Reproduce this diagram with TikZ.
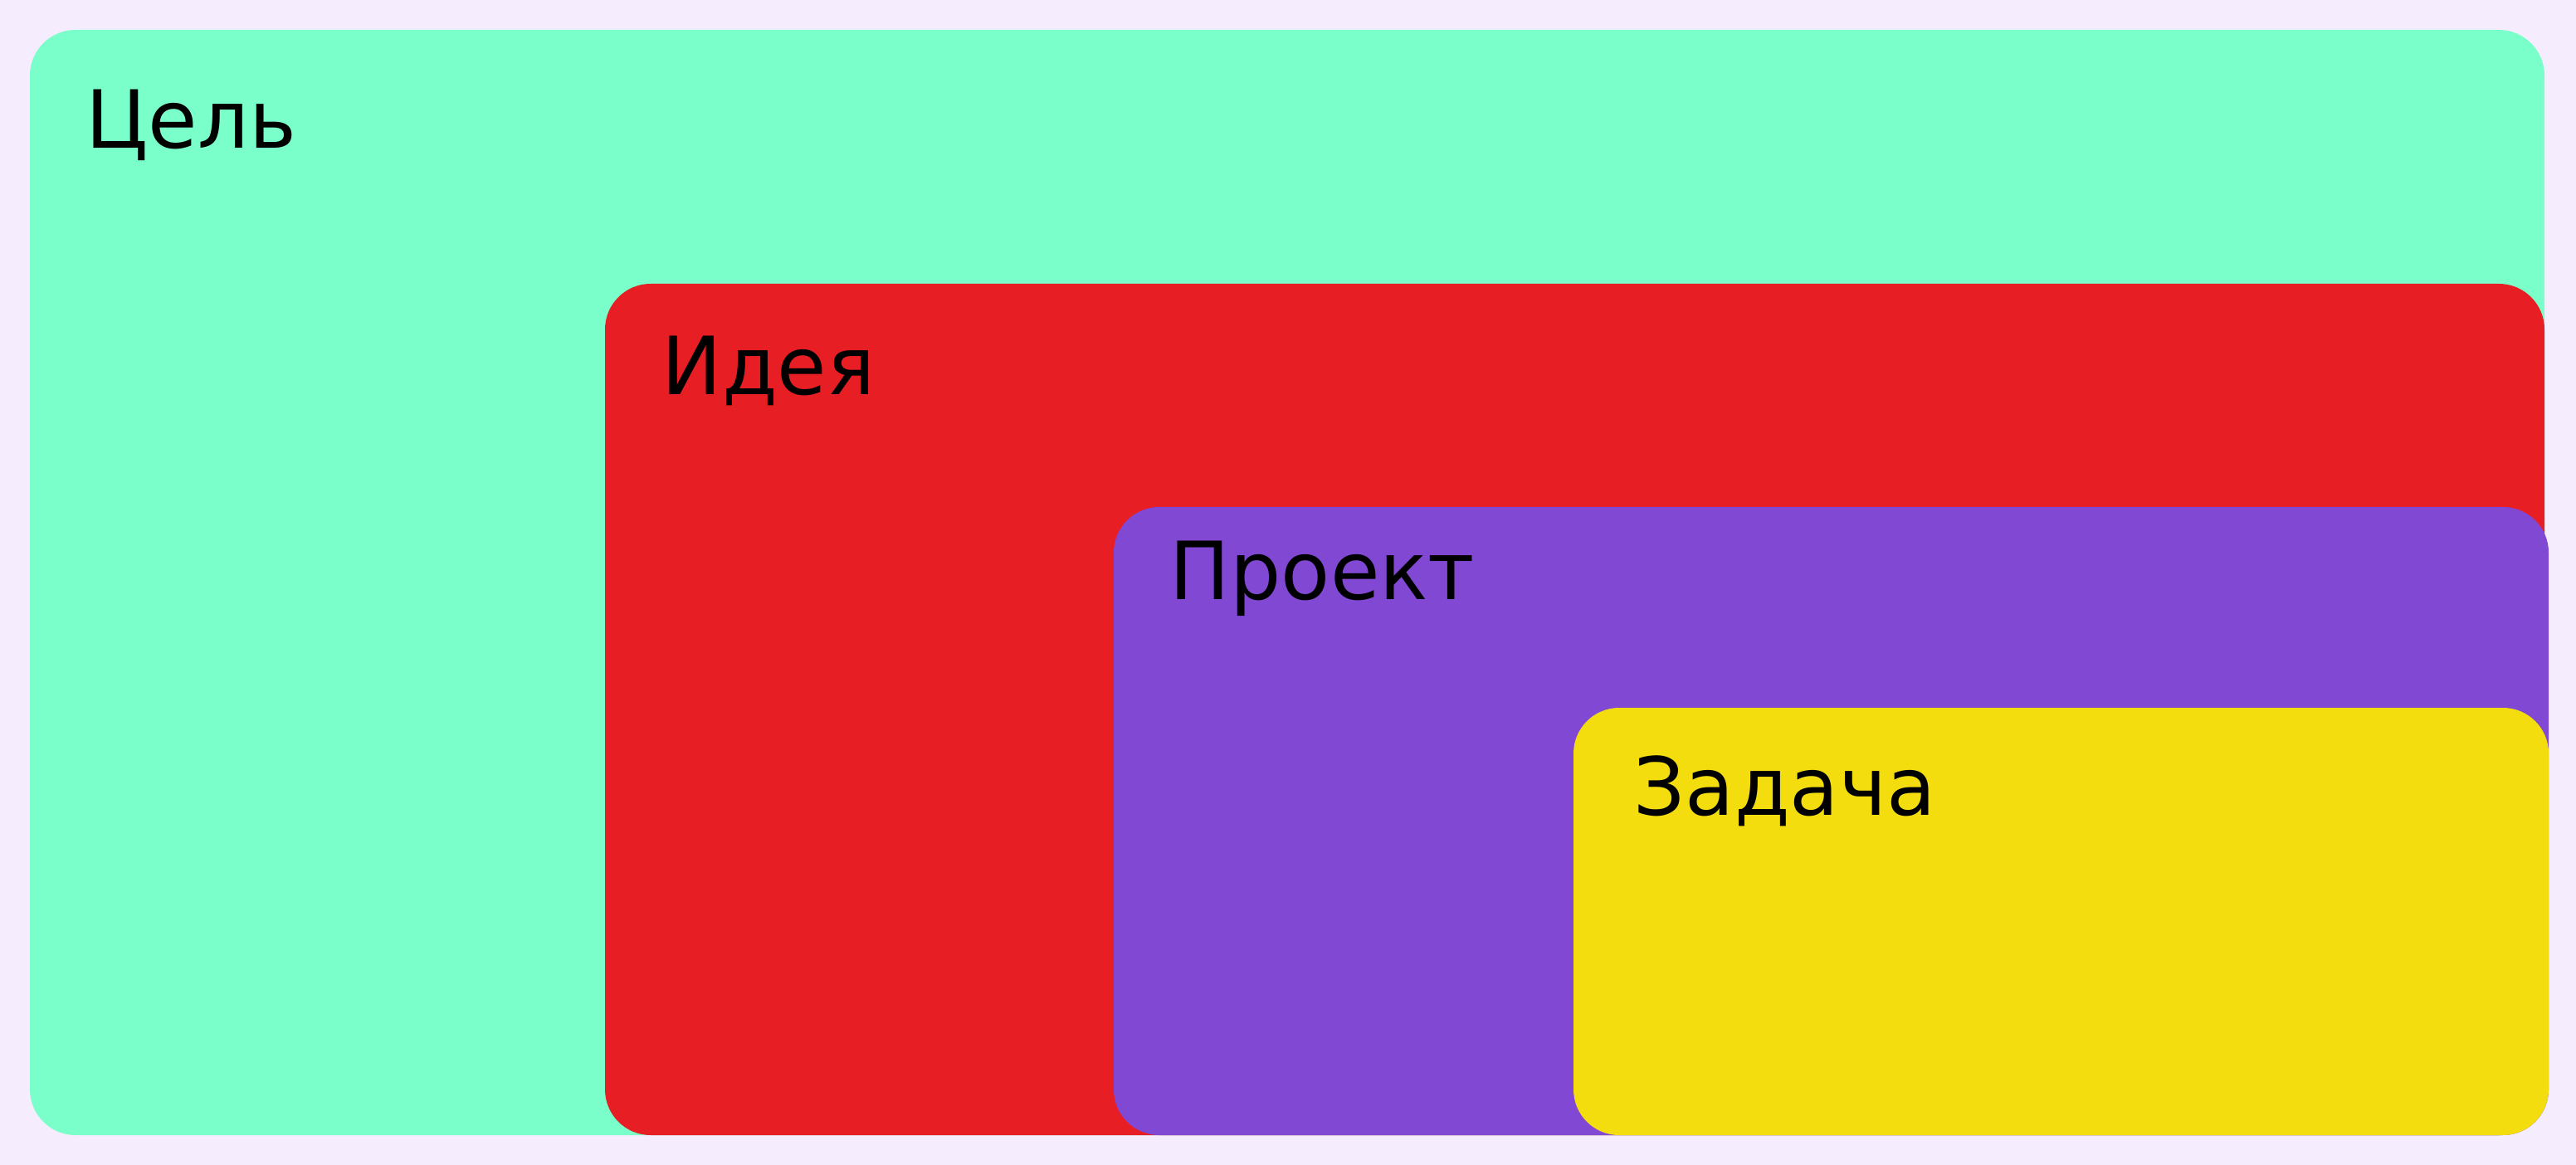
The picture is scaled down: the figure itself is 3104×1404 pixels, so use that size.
\documentclass[tikz,border=0pt]{standalone}
\usepackage{fontspec}
\setmainfont{DejaVu Sans}
\definecolor{fon}{HTML}{F5EDFE}
\definecolor{zel}{HTML}{7BFFCA}
\definecolor{kras}{HTML}{E81E25}
\definecolor{fiol}{HTML}{8148D4}
\definecolor{zhel}{HTML}{F3DD0F}
\tikzstyle{uroven} = [rounded corners=0.55cm]
\tikzstyle{nazv} = [anchor=base west, inner sep=0pt, font=\fontsize{27.5}{33}\selectfont]

\begin{document}
\begin{tikzpicture}[x=0.01cm, y=-0.01cm]
\fill[fon] (0,0) rectangle (3104,1404);
\useasboundingbox (0,0) rectangle (3104,1404);
% vlozhennye urovni
\fill[uroven, zel] (36,36) rectangle (3066,1368);
\fill[uroven, kras] (729,342) rectangle (3066,1368);
\fill[uroven, fiol] (1342,611) rectangle (3071,1368);
\fill[uroven, zhel] (1896,853) rectangle (3071,1368);
\node[nazv] (cel) at (103,179) {Цель};
\node[nazv] (ideya) at (797,476) {Идея};
\node[nazv] (proekt) at (1409,723) {Проект};
\node[nazv] (zadacha) at (1968,982) {Задача};
\end{tikzpicture}
\end{document}
